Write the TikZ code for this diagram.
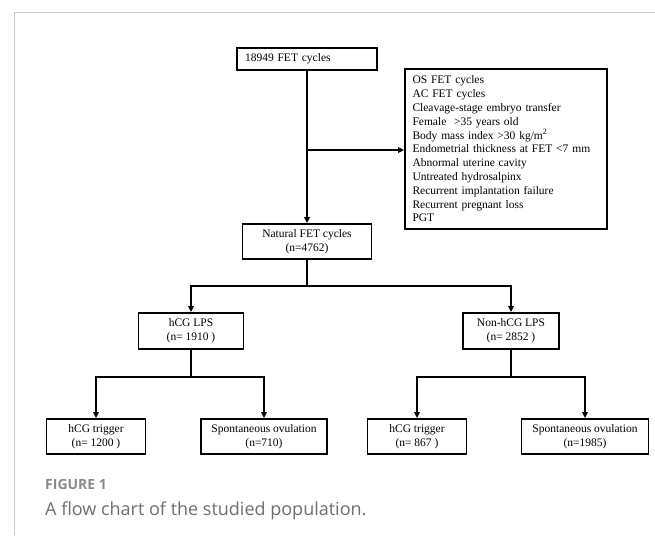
\documentclass[tikz,border=0pt]{standalone}
\usepackage{fontspec}
\setmainfont{Liberation Serif}
\newfontfamily\capfont{Open Sans}
\usetikzlibrary{arrows.meta}
\definecolor{framegray}{HTML}{CCCCCC}
\definecolor{capgray}{HTML}{6E6E6E}
\definecolor{figgray}{HTML}{8A8A8A}
\tikzset{
	box/.style={draw, line width=1.8pt, align=center, inner sep=0pt, minimum height=35pt, font=\fontsize{11.5}{14}\selectfont},
	flow/.style={line width=1.8pt, -{Triangle[length=6pt,width=5.5pt]}},
	link/.style={line width=1.8pt}
}

\begin{document}
\begin{tikzpicture}[x=1pt, y=-1pt]
	\useasboundingbox (0,0) rectangle (655,535);
	\draw[framegray, line width=1.3pt] (14.5,535) -- (14.5,12.5) -- (655,12.5);

	\node[box, minimum width=140pt, minimum height=22pt, text width=124pt, align=left] (total) at (307,59) {18949 FET cycles};
	\node[box, minimum width=202pt, minimum height=160pt, text width=187pt, align=left, font=\fontsize{11.5}{13.8}\selectfont] (excluded) at (506,149) {OS FET cycles\\AC FET cycles\\Cleavage-stage embryo transfer\\Female \ >35 years old\\Body mass index >30 kg/m\textsuperscript{2}\\Endometrial thickness at FET <7 mm\\Abnormal uterine cavity\\Untreated hydrosalpinx\\Recurrent implantation failure\\Recurrent pregnant loss\\PGT};
	\node[box, minimum width=129pt] (natural) at (307,241.5) {Natural FET cycles\\(n=4762)};

	\node[box, minimum width=105pt, minimum height=36pt] (hcg) at (191,331) {hCG LPS\\(n= 1910 )};
	\node[box, minimum width=96pt, minimum height=36pt] (nonhcg) at (511,331) {Non-hCG LPS\\(n= 2852 )};

	\node[box, minimum width=99pt] (hcgtrig) at (96,436.5) {hCG trigger\\(n= 1200 )};
	\node[box, minimum width=126pt] (hcgspon) at (264,436.5) {Spontaneous ovulation\\(n=710)};
	\node[box, minimum width=99pt] (nontrig) at (417,436.5) {hCG trigger\\(n= 867 )};
	\node[box, minimum width=127pt] (nonspon) at (585,436.5) {Spontaneous ovulation\\(n=1985)};

	\coordinate (split) at (307,150);
	\coordinate (fork) at (307,286);
	\coordinate (hcgfork) at (191,377);
	\coordinate (nonfork) at (511,377);

	\draw[flow] (total) -- (natural);
	\draw[flow] (split) -- (split -| excluded.west);
	\draw[link] (natural) -- (fork);
	\draw[flow] (fork) -| (hcg);
	\draw[flow] (fork) -| (nonhcg);
	\draw[link] (hcg) -- (hcgfork);
	\draw[flow] (hcgfork) -| (hcgtrig);
	\draw[flow] (hcgfork) -| (hcgspon);
	\draw[link] (nonhcg) -- (nonfork);
	\draw[flow] (nonfork) -| (nontrig);
	\draw[flow] (nonfork) -| (nonspon);

	\node[anchor=base west, inner sep=0pt, text=figgray, font=\capfont\bfseries\fontsize{14}{16}\selectfont] (fignum) at (45,489) {FIGURE 1};
	\node[anchor=base west, inner sep=0pt, text=capgray, font=\capfont\fontsize{18}{21}\selectfont] (figcap) at (45,515) {A flow chart of the studied population.};
\end{tikzpicture}
\end{document}
